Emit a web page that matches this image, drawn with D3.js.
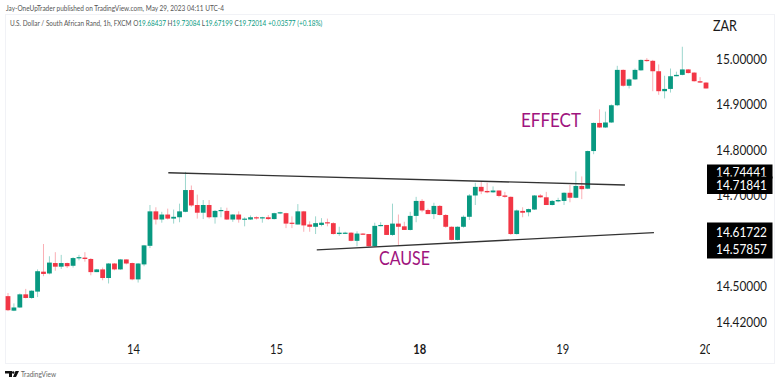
<!DOCTYPE html>
<html><head><meta charset="utf-8">
<script src="https://cdn.jsdelivr.net/npm/d3@7/dist/d3.min.js"></script>
<style>html,body{margin:0;padding:0;background:#fff}svg{display:block}text{font-family:Lato,sans-serif}</style>
</head><body><svg id="c" width="780" height="383"></svg>
<script>
const opens=[14.477,14.445,14.452,14.481,14.473,14.487,14.531,14.527,14.550,14.542,14.550,14.544,14.561,14.562,14.559,14.530,14.536,14.517,14.549,14.536,14.558,14.550,14.514,14.547,14.588,14.664,14.646,14.657,14.648,14.651,14.663,14.711,14.678,14.661,14.678,14.651,14.665,14.665,14.646,14.657,14.646,14.646,14.651,14.649,14.651,14.647,14.660,14.660,14.639,14.635,14.664,14.635,14.630,14.634,14.640,14.638,14.614,14.616,14.617,14.599,14.615,14.614,14.587,14.632,14.634,14.612,14.637,14.631,14.623,14.654,14.687,14.667,14.658,14.676,14.656,14.630,14.601,14.630,14.652,14.699,14.718,14.709,14.706,14.710,14.699,14.696,14.614,14.665,14.662,14.668,14.699,14.695,14.678,14.686,14.687,14.705,14.694,14.720,14.714,14.797,14.859,14.849,14.860,14.898,14.976,14.941,14.955,14.975,14.998,14.996,14.973,14.929,14.934,14.962,14.965,14.977,14.970,14.951,14.948];
const highs=[14.484,14.461,14.483,14.493,14.490,14.536,14.592,14.565,14.574,14.568,14.551,14.563,14.568,14.574,14.561,14.537,14.540,14.550,14.550,14.559,14.558,14.551,14.550,14.590,14.678,14.673,14.663,14.670,14.668,14.681,14.751,14.721,14.701,14.689,14.689,14.667,14.673,14.672,14.658,14.664,14.651,14.655,14.653,14.652,14.656,14.661,14.663,14.661,14.653,14.680,14.665,14.642,14.653,14.649,14.648,14.640,14.630,14.619,14.618,14.620,14.616,14.614,14.639,14.640,14.634,14.681,14.657,14.641,14.663,14.696,14.691,14.670,14.683,14.678,14.658,14.631,14.631,14.655,14.702,14.727,14.729,14.727,14.719,14.710,14.707,14.697,14.668,14.673,14.670,14.700,14.702,14.707,14.689,14.694,14.706,14.722,14.752,14.741,14.798,14.860,14.889,14.884,14.900,14.985,14.977,14.957,14.979,14.999,15.002,14.998,14.988,14.963,14.979,14.972,15.027,14.978,14.971,14.960,14.949];
const lows=[14.444,14.444,14.451,14.472,14.471,14.475,14.521,14.525,14.533,14.537,14.539,14.540,14.556,14.553,14.523,14.530,14.512,14.505,14.534,14.535,14.547,14.512,14.507,14.543,14.583,14.635,14.639,14.646,14.637,14.640,14.662,14.674,14.648,14.647,14.648,14.637,14.651,14.645,14.641,14.639,14.631,14.645,14.646,14.639,14.645,14.646,14.658,14.627,14.627,14.635,14.619,14.619,14.614,14.631,14.631,14.613,14.610,14.614,14.598,14.587,14.612,14.586,14.586,14.631,14.612,14.610,14.589,14.623,14.622,14.640,14.662,14.658,14.647,14.655,14.628,14.600,14.600,14.628,14.645,14.678,14.702,14.704,14.705,14.695,14.694,14.612,14.613,14.651,14.653,14.667,14.694,14.678,14.677,14.684,14.678,14.684,14.693,14.691,14.713,14.790,14.848,14.848,14.859,14.896,14.939,14.935,14.954,14.974,14.994,14.929,14.921,14.913,14.926,14.962,14.964,14.968,14.950,14.947,14.935];
const closes=[14.446,14.452,14.481,14.473,14.489,14.532,14.526,14.551,14.542,14.550,14.543,14.561,14.563,14.559,14.530,14.536,14.517,14.549,14.536,14.558,14.549,14.514,14.549,14.589,14.664,14.646,14.657,14.648,14.652,14.664,14.711,14.677,14.661,14.678,14.651,14.665,14.667,14.646,14.657,14.646,14.648,14.651,14.649,14.651,14.647,14.660,14.662,14.637,14.637,14.664,14.633,14.630,14.638,14.639,14.638,14.614,14.617,14.617,14.599,14.615,14.613,14.587,14.632,14.634,14.612,14.637,14.630,14.623,14.654,14.687,14.666,14.658,14.676,14.656,14.630,14.601,14.630,14.652,14.699,14.718,14.708,14.706,14.710,14.698,14.696,14.614,14.666,14.661,14.669,14.699,14.695,14.678,14.687,14.689,14.705,14.694,14.720,14.713,14.797,14.859,14.849,14.860,14.898,14.976,14.941,14.955,14.976,14.998,14.996,14.973,14.929,14.934,14.962,14.965,14.977,14.969,14.951,14.948,14.935];
const priceTicks=[15,14.9,14.8,14.7,14.5,14.42];
const dayLabels=["14","15","18","19","20"];
const dayBars=[22.2,46.4,70.6,94.8,119];
const trendUpper=[[28.1,14.749],[105.3,14.722]];
const trendLower=[[53.2,14.579],[110.2,14.617]];
const upperLabels=["14.74441","14.71841"];
const lowerLabels=["14.61722","14.57857"];
const headerLine="Jay-OneUpTrader published on TradingView.com, May 29, 2023 04:11 UTC-4";
const symbolName="U.S. Dollar / South African Rand, 1h, FXCM";
const ohlc=[["O","19.68437"],["H","19.73084"],["L","19.67199"],["C","19.72014 +0.03577 (+0.18%)"]];

const UP="#089981",DOWN="#f23645",INK="#1a1a1a";
const svg=d3.select("#c");
const x=d3.scaleLinear().domain([1,119]).range([8,706]);
const y=d3.scaleLinear().domain([14.42,15]).range([322,59]);
const squeeze=(sel,w)=>sel.attr("textLength",w).attr("lengthAdjust","spacingAndGlyphs");

svg.append("rect").attr("x",5.5).attr("y",14.5).attr("width",769).attr("height",349)
  .attr("fill","#fff").attr("stroke","#f1f2f6");
svg.append("defs").append("clipPath").attr("id","dayclip").append("rect")
  .attr("x",5).attr("y",330).attr("width",705).attr("height",34);

svg.append("text").attr("x",6).attr("y",11).attr("font-size",8).attr("fill","#555").call(squeeze,218).text(headerLine);
const t=svg.append("text").attr("transform","translate(10,25.5) scale(0.805,1)").attr("font-size",8).attr("fill","#555");
t.append("tspan").text(symbolName+"  ");
ohlc.forEach(([k,v])=>{t.append("tspan").text(" "+k);t.append("tspan").attr("fill",UP).text(v+" ");});

const idx=d3.range(opens.length);
const g=svg.append("g");
g.selectAll("line.w").data(idx).join("line").attr("class","w")
  .attr("x1",i=>x(i+1)).attr("x2",i=>x(i+1))
  .attr("y1",i=>y(highs[i])).attr("y2",i=>y(lows[i]))
  .attr("stroke",i=>closes[i]>=opens[i]?UP:DOWN).attr("stroke-opacity",.4).attr("stroke-width",1);
g.selectAll("rect").data(idx).join("rect")
  .attr("x",i=>x(i+1)-2.4).attr("width",4.8)
  .attr("y",i=>y(Math.max(opens[i],closes[i])))
  .attr("height",i=>Math.max(1.2,Math.abs(y(opens[i])-y(closes[i]))))
  .attr("fill",i=>closes[i]>=opens[i]?UP:DOWN);

const ln=d3.line().x(d=>x(d[0])).y(d=>y(d[1]));
[trendUpper,trendLower].forEach(d=>svg.append("path").attr("d",ln(d)).attr("fill","none")
  .attr("stroke","#333").attr("stroke-width",1.4));

svg.append("text").attr("x",521).attr("y",126.5).attr("font-size",18.5).attr("fill","#a0147e").call(squeeze,60).text("EFFECT");
svg.append("text").attr("x",379).attr("y",264.5).attr("font-size",18.5).attr("fill","#a0147e").call(squeeze,51).text("CAUSE");

const yAxis=d3.axisRight(y).tickValues(priceTicks).tickSize(0).tickFormat(d3.format(".5f"));
const ya=svg.append("g").attr("transform","translate(714,0)").call(yAxis);
ya.select(".domain").remove();
ya.selectAll("text").attr("x",2).attr("font-size",14).attr("font-family","Lato").attr("fill",INK).call(squeeze,51);
svg.append("text").attr("x",713).attr("y",31).attr("font-size",14.5).attr("fill",INK).call(squeeze,24).text("ZAR");

const tagX=707,tagW=65.5;
function tag(y0,h,label,ty,fs){
  svg.append("rect").attr("x",tagX).attr("y",y0).attr("width",tagW).attr("height",h).attr("fill","#000");
  svg.append("text").attr("x",716).attr("y",ty).attr("font-size",fs).attr("fill","#fff").call(squeeze,51).text(label);
}
tag(164.5,14,upperLabels[0],177,12.5);
tag(176.5,17.5,upperLabels[1],190,12.5);
tag(222.5,36,lowerLabels[0],236.5,14);
svg.append("text").attr("x",716).attr("y",254).attr("font-size",14).attr("fill","#fff").call(squeeze,51).text(lowerLabels[1]);

const xDay=svg.append("g").attr("clip-path","url(#dayclip)");
xDay.selectAll("text").data(dayLabels).join("text")
  .attr("x",(d,i)=>x(dayBars[i])).attr("y",354).attr("text-anchor","middle")
  .attr("font-size",13.5).attr("fill",INK).attr("font-weight",d=>d==="18"?700:400).call(squeeze,13).text(d=>d);

svg.append("path").attr("d","M5 371h7v6h-3v-3.5H5zM13 377l2.5-6H19l-3 6z").attr("fill","#111");
svg.append("circle").attr("cx",13.2).attr("cy",372.5).attr("r",1.2).attr("fill","#111");
svg.append("text").attr("x",21).attr("y",376.5).attr("font-size",8).attr("fill","#666").call(squeeze,35).text("TradingView");
</script></body></html>
